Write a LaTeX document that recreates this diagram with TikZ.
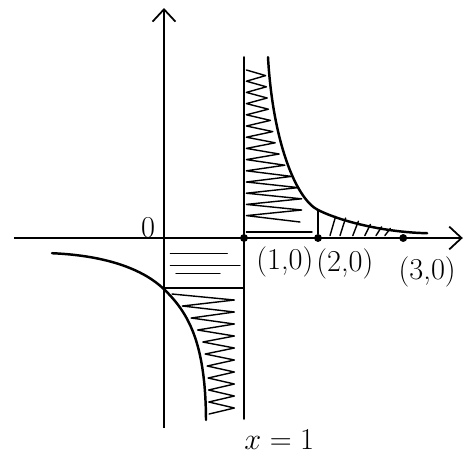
\documentclass[tikz,border=0pt]{standalone}
\usetikzlibrary{arrows.meta}
\begin{document}
\begin{tikzpicture}[x=1.6cm,y=1.6cm,
  axis/.style={line width=1pt, -{Straight Barb[length=7pt,width=13pt,line width=1pt]}},
  graph/.style={line width=1.4pt, line cap=round},
  fillline/.style={line width=0.8pt, line join=round, line cap=round},
  dot/.style={circle, fill, inner sep=0pt, minimum size=4.5pt},
  lbl/.style={font=\LARGE, inner sep=1pt}]
\useasboundingbox (-2.05,-2.825) rectangle (3.8875,2.975);
% axes
\coordinate (xs) at (-1.875,0);
\coordinate (xe) at (3.735,0);
\coordinate (ys) at (0,-2.375);
\coordinate (ye) at (0,2.875);
\draw[axis] (xs) -- (xe);
\draw[axis] (ys) -- (ye);
% asymptote x=1
\coordinate (at) at (1,2.26);
\coordinate (ab) at (1,-2.26);
\draw[graph] (at) -- (ab);
% the two branches
\draw[graph] (1.3,2.26) .. controls (1.36,1.2) and (1.65,0.49) .. (1.925,0.35)
  .. controls (2.25,0.19) and (2.8,0.07) .. (3.29,0.06);
\draw[graph] (-1.4,-0.19) .. controls (-0.7,-0.22) and (-0.25,-0.4) .. (0,-0.64)
  .. controls (0.3,-0.93) and (0.52,-1.3) .. (0.525,-2.275);
% points on the x-axis
\node[dot] (p1) at (1,0) {};
\node[dot] (p2) at (1.925,0) {};
\node[dot] (p3) at (2.99,0) {};
\coordinate (c2) at (1.925,0.35);
\draw[graph] (p2) -- (c2);
% zigzag shading right of x=1
\draw[fillline] (1.03,2.1) foreach [count=\k] \r in {1.27,1.28,1.29,1.305,1.33,1.36,
  1.39,1.44,1.51,1.595,1.68,1.72,1.72} { -- (\r,{2.1-0.14*\k+0.07}) -- (1.03,{2.1-0.14*\k}) }
  -- (1.7,0.2);
\draw[fillline] (1.03,0.075) -- (1.85,0.075);
% hatching between (2,0) and (3,0)
\foreach \x/\h in {2.075/0.24,2.2/0.22,2.36/0.18,2.51/0.14,2.65/0.11,2.76/0.09}
  \draw[fillline] (\x,0.03) -- ++(0.07,\h);
% shading between x=0 and x=1 below the axis
\draw[fillline] (0.08,-0.19) -- (0.79,-0.19);
\draw[fillline] (0.08,-0.34) -- (0.95,-0.34);
\draw[fillline] (0.15,-0.44) -- (0.7,-0.44);
\draw[fillline] (0,-0.625) -- (1,-0.625);
\draw[fillline] (0.1,-0.7) foreach [count=\k] \l in {0.23,0.34,0.42,0.485,0.515,0.54,
  0.552,0.557,0.56,0.564} { -- (0.88,{-0.7-0.15*\k+0.075}) -- (\l,{-0.7-0.15*\k}) };
% labels
\node[lbl] (o) at (-0.2,0.13) {0};
\node[lbl] (l1) at (1.51,-0.3) {(1,0)};
\node[lbl] (l2) at (2.26,-0.33) {(2,0)};
\node[lbl] (l3) at (3.29,-0.43) {(3,0)};
\node[lbl] (lx) at (1.44,-2.525) {$x=1$};
\end{tikzpicture}
\end{document}
